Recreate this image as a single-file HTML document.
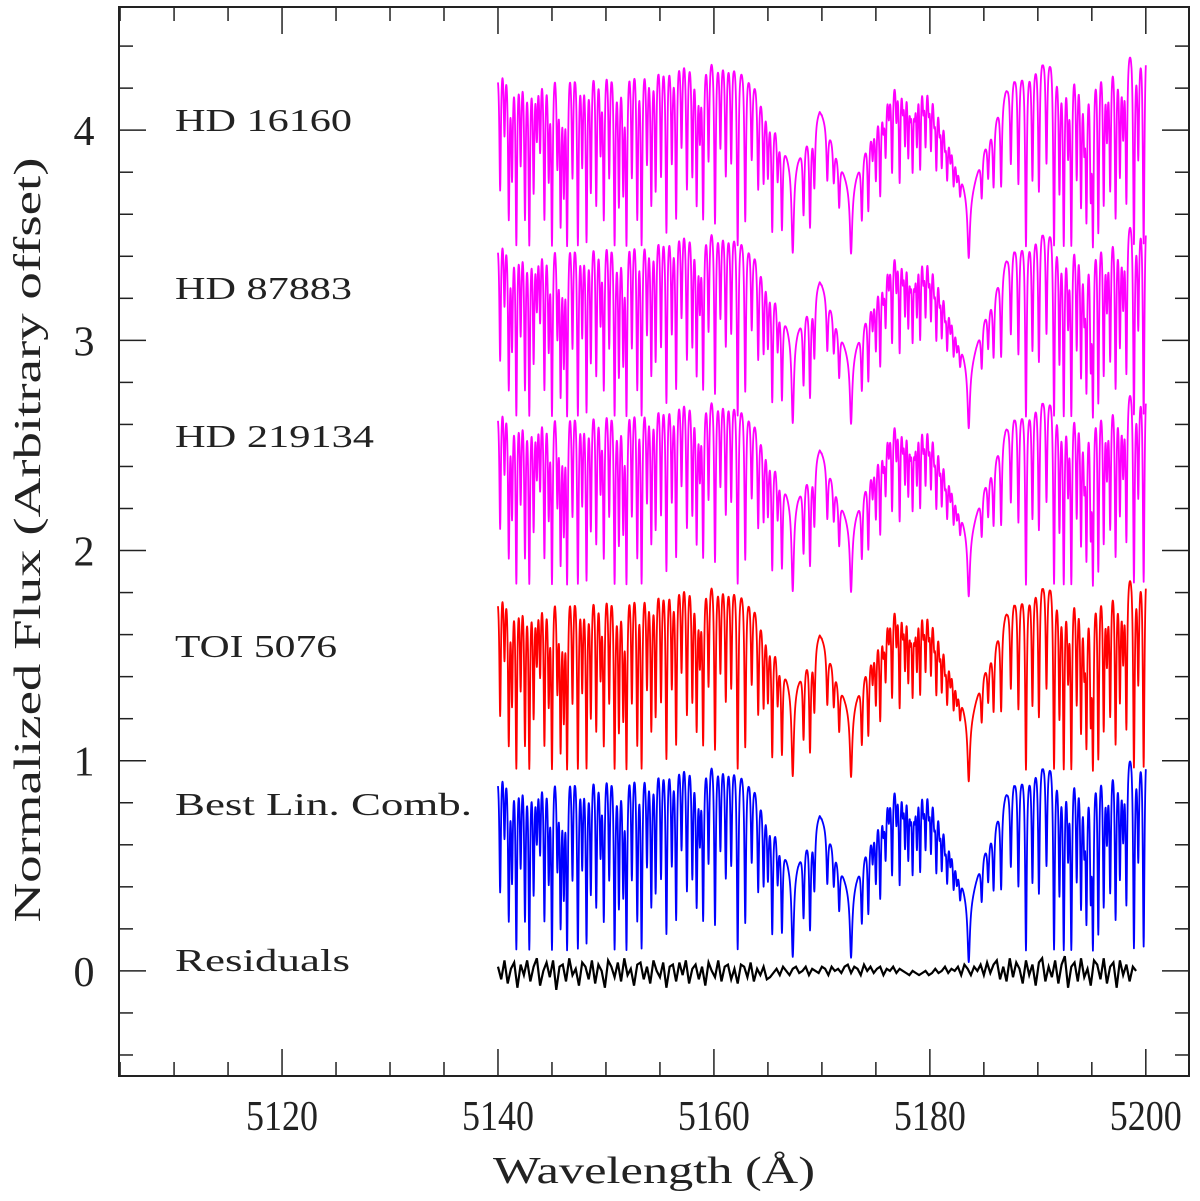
<!DOCTYPE html>
<html><head><meta charset="utf-8"><title>Spectra</title>
<style>html,body{margin:0;padding:0;background:#fff;}svg{display:block;}</style></head>
<body>
<svg id="chart" width="1200" height="1201" viewBox="0 0 1200 1201" xmlns="http://www.w3.org/2000/svg">
<rect x="0" y="0" width="1200" height="1201" fill="#fff"/>
<g id="series"></g>
<g id="axes"></g>
<g id="labels" font-family="'Liberation Serif', serif" fill="#222"></g>
</svg>
<script>
// ---- data ----
const xTicksMajor = [5120, 5140, 5160, 5180, 5200];
const yTicksMajor = [0, 1, 2, 3, 4];
const seriesNames = ["HD 16160", "HD 87883", "HD 219134", "TOI 5076", "Best Lin. Comb."];
const seriesColors = ["#ff00ff", "#ff00ff", "#ff00ff", "#ff0000", "#0000ff"];
const seriesOffsets = [3.35, 2.54, 1.74, 0.86, 0.0];
const seriesDepthScale = [1.3, 1.3, 1.3, 1.32, 1.28];
const contWl = [5140.0,5140.3,5141,5143,5145,5148,5150,5153,5155,5158,5160,5162,5163,5164,5165.5,5167.3,5168.5,5169.8,5171,5172.7,5174,5175,5176,5177,5178,5179,5180,5181,5182,5183.6,5185,5186,5187,5188,5189,5190,5193,5196,5198,5200];
const contFlux = [1.0,1.1,1.1,1.1,1.09,1.08,1.08,1.09,1.09,1.1,1.09,1.06,1.0,0.92,0.78,0.45,0.64,0.76,0.62,0.35,0.6,0.8,0.94,1.02,1.06,1.05,1.0,0.86,0.64,0.3,0.58,0.72,0.86,0.96,1.0,1.04,1.07,1.1,1.12,1.14];
const mgWl = [5167.3, 5172.7, 5183.6];
const mgDepth = [0.85, 0.82, 0.86];
const lineWl = [5140.2,5140.6,5141.0,5141.3,5141.7,5142.1,5142.5,5142.9,5143.3,5143.6,5143.9,5144.3,5144.7,5145.0,5145.5,5145.8,5146.1,5146.4,5146.9,5147.4,5147.8,5148.2,5148.6,5149.1,5149.5,5149.8,5150.3,5150.8,5151.2,5151.6,5151.9,5152.4,5152.9,5153.3,5153.8,5154.2,5154.6,5155.1,5155.6,5156.1,5156.5,5157.0,5157.5,5158.0,5158.4,5158.7,5159.0,5159.5,5160.1,5160.6,5161.1,5161.6,5162.2,5162.9,5163.5,5164.1,5164.6,5165.0,5165.4,5165.9,5166.3,5168.3,5168.9,5169.3,5170.5,5171.1,5171.6,5173.7,5174.3,5174.7,5175.0,5175.4,5175.7,5175.9,5176.2,5176.5,5176.9,5177.2,5177.5,5177.7,5178.0,5178.2,5178.4,5178.6,5178.8,5179.1,5179.4,5179.6,5179.9,5180.1,5180.4,5180.6,5180.9,5181.1,5181.4,5181.6,5181.9,5182.2,5182.5,5182.8,5184.8,5185.4,5185.9,5186.6,5187.5,5188.2,5188.9,5189.5,5190.1,5190.8,5191.5,5192.0,5192.4,5192.8,5193.1,5193.6,5194.0,5194.3,5194.5,5194.9,5195.1,5195.6,5196.1,5196.4,5196.7,5197.2,5197.6,5197.9,5198.2,5198.9,5199.3,5199.8];
const lineDepth = [0.5,0.3,0.6,0.45,0.78,0.4,0.6,0.8,0.5,0.3,0.35,0.6,0.45,0.75,0.4,0.62,0.5,0.72,0.45,0.7,0.4,0.68,0.5,0.55,0.35,0.6,0.45,0.8,0.55,0.5,0.78,0.45,0.6,0.7,0.4,0.55,0.5,0.45,0.65,0.4,0.6,0.35,0.5,0.45,0.55,0.3,0.6,0.4,0.62,0.35,0.45,0.4,0.72,0.6,0.35,0.45,0.4,0.35,0.6,0.3,0.55,0.45,0.55,0.35,0.3,0.25,0.35,0.45,0.45,0.2,0.35,0.45,0.15,0.3,0.15,0.4,0.2,0.45,0.15,0.3,0.35,0.15,0.4,0.15,0.3,0.4,0.15,0.3,0.15,0.3,0.15,0.35,0.15,0.3,0.15,0.3,0.15,0.25,0.15,0.2,0.3,0.25,0.35,0.4,0.35,0.45,0.78,0.45,0.5,0.4,0.75,0.5,0.8,0.35,0.75,0.45,0.55,0.3,0.6,0.5,0.7,0.65,0.55,0.3,0.5,0.6,0.45,0.3,0.55,0.78,0.4,0.7];
const residualValues = [0.02,-0.04,0.05,-0.06,0.01,0.04,-0.08,0.03,-0.02,0.05,-0.05,0.02,0.06,-0.07,0.0,0.04,-0.03,0.05,-0.09,0.02,0.03,-0.05,0.06,-0.02,0.01,-0.07,0.04,0.02,-0.04,0.05,-0.06,0.03,0.0,-0.08,0.05,0.02,-0.03,0.04,-0.05,0.06,-0.02,0.01,-0.07,0.03,0.04,-0.04,0.02,-0.06,0.05,0.0,-0.03,0.04,-0.08,0.02,0.03,-0.05,0.04,-0.02,0.05,-0.06,0.01,0.03,-0.04,0.02,-0.07,0.04,0.0,-0.03,0.05,-0.05,0.02,0.03,-0.04,0.01,-0.06,0.03,0.02,-0.03,0.04,-0.05,0.01,-0.02,0.02,-0.04,-0.03,-0.01,0.01,-0.02,0.02,0.0,-0.02,0.01,0.02,-0.01,0.0,0.02,-0.02,0.01,0.0,-0.01,0.02,0.01,-0.02,0.02,0.0,0.01,-0.01,0.02,0.03,-0.01,0.02,0.01,-0.02,0.03,0.0,0.02,-0.01,0.01,0.02,-0.02,0.01,0.0,0.02,-0.01,0.01,0.0,-0.01,-0.02,0.0,-0.01,-0.02,-0.01,0.0,-0.02,-0.01,0.01,-0.01,0.0,0.02,-0.01,0.01,0.0,0.02,-0.02,0.03,0.01,-0.02,0.02,0.0,0.03,-0.02,0.04,-0.01,0.03,0.05,-0.04,0.02,-0.05,0.06,-0.03,0.04,0.01,-0.06,0.05,-0.02,0.03,-0.07,0.04,0.06,-0.05,0.02,-0.03,0.05,-0.06,0.03,0.07,-0.08,0.02,0.04,-0.05,0.06,-0.03,0.01,-0.07,0.05,0.03,-0.04,0.06,-0.06,0.02,0.04,-0.08,0.05,-0.02,0.03,-0.05,0.02,0.0];
const residualStart = 5140.0;
const residualStep = 0.3;

// ---- axes ----
const XMIN = 5104.9, XMAX = 5204.0, YMIN = -0.5, YMAX = 4.586;
const PL = 119, PR = 1189, PT = 7, PB = 1076;
const sx = v => PL + (v - XMIN) / (XMAX - XMIN) * (PR - PL);
const sy = v => PB - (v - YMIN) / (YMAX - YMIN) * (PB - PT);
const NS = "http://www.w3.org/2000/svg";
function mk(tag, attrs, parent) {
  const e = document.createElementNS(NS, tag);
  for (const k in attrs) e.setAttribute(k, attrs[k]);
  parent.appendChild(e);
  return e;
}
function interp(xs, ys, x) {
  if (x <= xs[0]) return ys[0];
  for (let i = 1; i < xs.length; i++) {
    if (x <= xs[i]) { const t = (x - xs[i-1]) / (xs[i] - xs[i-1]); return ys[i-1] + t * (ys[i] - ys[i-1]); }
  }
  return ys[ys.length - 1];
}
function template(l, scale) {
  let f = interp(contWl, contFlux, l);
  for (let i = 0; i < mgWl.length; i++) { const d = (l - mgWl[i]) / 0.12; f *= 1 - mgDepth[i] / (1 + d * d); }
  for (let i = 0; i < lineWl.length; i++) {
    const d = (l - lineWl[i]) / 0.09;
    if (Math.abs(d) < 12) f *= 1 - Math.min(0.9, lineDepth[i] * scale) / (1 + d * d);
  }
  return f;
}
const sg = document.getElementById('series');
for (let s = 0; s < seriesNames.length; s++) {
  let d = '';
  for (let l = 5140.0; l <= 5200.001; l += 0.02) {
    const y = template(l, seriesDepthScale[s]) + seriesOffsets[s];
    d += (d ? 'L' : 'M') + sx(l).toFixed(2) + ' ' + sy(y).toFixed(2);
  }
  const p = mk('path', {d: d, fill: 'none', stroke: seriesColors[s], 'stroke-width': 1.8, 'stroke-linejoin': 'round'}, sg);
  
  
}
{
  let d = '';
  for (let i = 0; i < residualValues.length; i++) {
    const l = residualStart + i * residualStep;
    d += (d ? 'L' : 'M') + sx(l).toFixed(2) + ' ' + sy(residualValues[i]).toFixed(2);
  }
  const p = mk('path', {d: d, fill: 'none', stroke: '#000', 'stroke-width': 2.2}, sg);
  
  
}
// frame + ticks
const ax = document.getElementById('axes');
const fr = mk('rect', {x: PL, y: PT, width: PR - PL, height: PB - PT, fill: 'none', stroke: '#222', 'stroke-width': 2}, ax);


for (let v = 5105; v <= 5204; v += 5) {
  const major = v % 20 === 0;
  const len = major ? 27 : 14;
  const x = sx(v);
  const t1 = mk('line', {x1: x, x2: x, y1: PB, y2: PB - len, stroke: '#222', 'stroke-width': 1.5}, ax);
  
  
  const t2 = mk('line', {x1: x, x2: x, y1: PT, y2: PT + len, stroke: '#222', 'stroke-width': 1.5}, ax);
  
  
}
for (let k = -2; k <= 22; k++) {
  const v = k * 0.2;
  if (v < YMIN || v > YMAX) continue;
  const major = k % 5 === 0;
  const len = major ? 27 : 14;
  const y = sy(v);
  const t1 = mk('line', {x1: PL, x2: PL + len, y1: y, y2: y, stroke: '#222', 'stroke-width': 1.5}, ax);
  
  
  const t2 = mk('line', {x1: PR, x2: PR - len, y1: y, y2: y, stroke: '#222', 'stroke-width': 1.5}, ax);
  
  
}
const lg = document.getElementById('labels');
for (const v of xTicksMajor) {
  const t = mk('text', {x: sx(v), y: 1130, 'font-size': 42, 'text-anchor': 'middle', textLength: 72, lengthAdjust: 'spacingAndGlyphs'}, lg);
  t.textContent = v;
  
  
}
for (const v of yTicksMajor) {
  const t = mk('text', {x: 84, y: sy(v) + 15, 'font-size': 42, 'text-anchor': 'middle'}, lg);
  t.textContent = v;
  
  
}
const xt = mk('text', {x: 654, y: 1183, 'font-size': 38, 'text-anchor': 'middle', textLength: 322, lengthAdjust: 'spacingAndGlyphs'}, lg);
xt.textContent = 'Wavelength (Å)';


const yt = mk('text', {x: 0, y: 0, 'font-size': 38, 'text-anchor': 'middle', textLength: 765, lengthAdjust: 'spacingAndGlyphs', transform: 'translate(40 540) rotate(-90)'}, lg);
yt.textContent = 'Normalized Flux (Arbitrary offset)';


const labelText = ["HD 16160", "HD 87883", "HD 219134", "TOI 5076", "Best Lin. Comb.", "Residuals"];
const labelY = [131, 299, 447, 657, 815, 971];
const labelW = [177, 177, 199, 162, 297, 175];
for (let i = 0; i < labelText.length; i++) {
  const t = mk('text', {x: 175, y: labelY[i], 'font-size': 32, textLength: labelW[i], lengthAdjust: 'spacingAndGlyphs'}, lg);
  t.textContent = labelText[i];
  
  
}
</script>
</body></html>
